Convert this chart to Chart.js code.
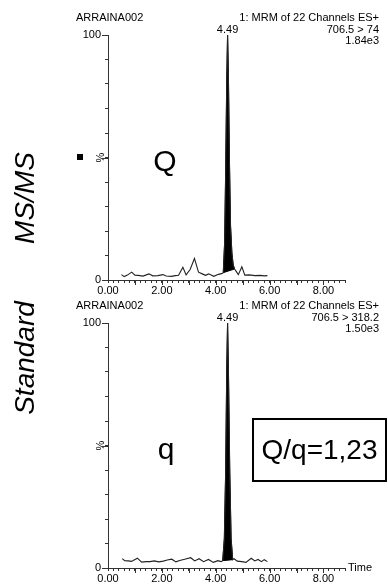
<!DOCTYPE html>
<html>
<head>
<meta charset="utf-8">
<script src="https://cdn.jsdelivr.net/npm/chart.js@4/dist/chart.umd.min.js"></script>
<style>
  html, body { margin: 0; padding: 0; background: #fff; }
  body { width: 388px; height: 584px; position: relative; overflow: hidden; font-family: "Liberation Sans", Arial, sans-serif; }
  canvas { position: absolute; left: 0; }
  .txt { position: absolute; white-space: nowrap; line-height: 1; color: #000; }
  .side { font-size: 28px; font-style: italic; transform: translate(-50%, -50%) rotate(-90deg); }
  .big { font-size: 30px; transform: translateX(-50%); }
</style>
</head>
<body>
<canvas id="chartQ" width="388" height="300" style="top:0"></canvas>
<canvas id="chartq" width="388" height="296" style="top:288px"></canvas>

<div class="txt side" style="left:25px; top:198px">MS/MS</div>
<div class="txt side" style="left:25px; top:358px">Standard</div>
<div style="position:absolute; left:77px; top:154px; width:6px; height:6px; background:#000"></div>
<div class="txt big" style="left:165px; top:146px">Q</div>
<div class="txt big" style="left:166px; top:434px">q</div>
<div style="position:absolute; left:252px; top:418px; width:135px; height:64px; box-sizing:border-box; border:2px solid #000; display:flex; align-items:center; justify-content:center; font-size:28px">Q/q=1,23</div>
<div class="txt" style="left:348px; top:562px; font-size:11px">Time</div>

<script>
// Chart data
const sampleName = 'ARRAINA002';
const channelTitle = '1: MRM of 22 Channels ES+';
const transitions = ['706.5 > 74', '706.5 > 318.2'];
const intensities = ['1.84e3', '1.50e3'];
const apexLabels = ['4.49', '4.49'];
const majorTicks = [0, 2, 4, 6, 8];

// Quantifier trace (Q), time in min, intensity in %
const timesQ = [0.50, 0.60, 0.72, 0.88, 1.00, 1.12, 1.30, 1.52, 1.66, 1.85, 2.04, 2.16, 2.35, 2.50, 2.62, 2.78, 2.90, 3.05, 3.21, 3.36, 3.50, 3.62, 3.74, 3.93, 4.10, 4.22, 4.28, 4.33, 4.37, 4.41, 4.44, 4.47, 4.51, 4.55, 4.60, 4.65, 4.70, 4.76, 4.84, 4.97, 5.08, 5.25, 5.45, 5.65, 5.80, 5.92];
const valuesQ = [2.2, 1.4, 2.0, 3.2, 2.0, 1.9, 1.6, 2.5, 1.7, 1.8, 2.2, 1.6, 1.5, 1.8, 1.9, 5.2, 2.1, 4.3, 8.8, 3.2, 2.5, 1.9, 2.5, 1.5, 2.3, 2.6, 3.0, 15, 45, 82, 100, 84, 48, 22, 11, 6, 4.5, 3.5, 2.2, 5.4, 2.0, 2.1, 1.8, 1.9, 1.7, 1.8];
const peakQ = [4.28, 4.70];

// Qualifier trace (q)
const timesq = [0.53, 0.62, 0.75, 0.87, 1.09, 1.25, 1.42, 1.56, 1.72, 1.88, 2.05, 2.20, 2.37, 2.52, 2.66, 2.85, 3.07, 3.22, 3.38, 3.55, 3.73, 3.91, 4.08, 4.20, 4.26, 4.32, 4.37, 4.41, 4.44, 4.47, 4.52, 4.57, 4.63, 4.68, 4.80, 4.97, 5.12, 5.32, 5.45, 5.57, 5.70, 5.80, 5.92];
const valuesq = [3.8, 3.0, 2.9, 2.7, 4.0, 2.4, 2.6, 2.6, 2.9, 2.5, 2.8, 3.3, 3.6, 2.5, 3.1, 3.6, 4.2, 2.9, 3.8, 2.6, 3.5, 2.3, 3.0, 2.6, 3.0, 12, 40, 82, 100, 82, 40, 12, 3.4, 3.8, 2.8, 2.6, 2.3, 4.0, 2.9, 3.5, 2.6, 3.4, 2.6];
const peakq = [4.26, 4.63];

const axisColor = '#333';
const traceColor = '#222';
const font = '"Liberation Sans", Arial, sans-serif';

// header texts + longer ticks at whole minutes and 0/50/100 %
const decorations = {
    id: 'decorations',
    afterDraw(chart) {
        const opts = chart.options.plugins.decorations;
        const { ctx, chartArea: a, scales: { x, y } } = chart;
        ctx.save();
        ctx.strokeStyle = axisColor;
        ctx.lineWidth = 1;
        ctx.beginPath();
        for (let v = 1; v <= 8; v++) {
            const px = Math.round(x.getPixelForValue(v)) + 0.5;
            ctx.moveTo(px, a.bottom);
            ctx.lineTo(px, a.bottom + 5);
        }
        [0, 50, 100].forEach(v => {
            const py = Math.round(y.getPixelForValue(v)) + 0.5;
            ctx.moveTo(a.left, py);
            ctx.lineTo(a.left - 6, py);
        });
        ctx.stroke();

        ctx.fillStyle = '#000';
        ctx.font = '11px ' + font;
        ctx.textBaseline = 'middle';
        ctx.textAlign = 'left';
        ctx.fillText(sampleName, 76, 18);
        ctx.textAlign = 'right';
        ctx.fillText(channelTitle, 379, 18);
        ctx.fillText(opts.transition, 379, 30);
        ctx.fillText(opts.intensity, 379, 41);
        // label above the apex
        const data = chart.data.datasets[0].data;
        const apex = data.reduce((m, p) => (p.y > m.y ? p : m), data[0]);
        ctx.textAlign = 'center';
        ctx.fillText(opts.apexLabel, x.getPixelForValue(apex.x), 30);
        ctx.restore();
    }
};

function makeChart(id, times, values, peak, idx) {
    const points = times.map((t, i) => ({ x: t, y: values[i] }));
    const peakPoints = points.filter(p => p.x >= peak[0] && p.x <= peak[1]);
    const base = [peakPoints[0], peakPoints[peakPoints.length - 1]];

    return new Chart(document.getElementById(id), {
        type: 'line',
        data: {
            datasets: [
                {
                    data: points,
                    borderColor: traceColor,
                    borderWidth: 1.1,
                    pointRadius: 0,
                    fill: false
                },
                {
                    data: peakPoints,
                    borderColor: '#000',
                    backgroundColor: '#000',
                    borderWidth: 1,
                    pointRadius: 0,
                    fill: 2
                },
                {
                    data: base,
                    borderColor: '#000',
                    borderWidth: 1,
                    pointRadius: 0,
                    fill: false
                }
            ]
        },
        options: {
            responsive: false,
            devicePixelRatio: 1,
            animation: false,
            events: [],
            layout: { padding: { left: 78, top: 35, right: 43, bottom: 0 } },
            plugins: {
                legend: { display: false },
                tooltip: { enabled: false },
                decorations: {
                    transition: transitions[idx],
                    intensity: intensities[idx],
                    apexLabel: apexLabels[idx]
                }
            },
            scales: {
                x: {
                    type: 'linear',
                    min: 0,
                    max: 8.8,
                    afterFit: s => { s.height = s.chart.height - 280; },
                    ticks: {
                        stepSize: 0.2,
                        autoSkip: false,
                        maxRotation: 0,
                        padding: 1,
                        color: '#000',
                        font: { family: font, size: 11 },
                        callback: v => majorTicks.some(m => Math.abs(m - v) < 1e-6) ? v.toFixed(2) : ''
                    },
                    grid: { drawOnChartArea: false, tickLength: 3, color: axisColor },
                    border: { color: axisColor, width: 1 }
                },
                y: {
                    min: 0,
                    max: 100,
                    afterFit: s => { s.width = 30; },
                    title: {
                        display: true,
                        text: '%',
                        color: '#000',
                        padding: { top: 16, bottom: 0 },
                        font: { family: font, size: 11 }
                    },
                    ticks: {
                        stepSize: 10,
                        autoSkip: false,
                        padding: 4,
                        color: '#000',
                        font: { family: font, size: 11 },
                        callback: v => (v === 0 || v === 100) ? String(v) : ''
                    },
                    grid: { drawOnChartArea: false, tickLength: 3, color: axisColor },
                    border: { color: axisColor, width: 1 }
                }
            }
        },
        plugins: [decorations]
    });
}

makeChart('chartQ', timesQ, valuesQ, peakQ, 0);
makeChart('chartq', timesq, valuesq, peakq, 1);
</script>
</body>
</html>
